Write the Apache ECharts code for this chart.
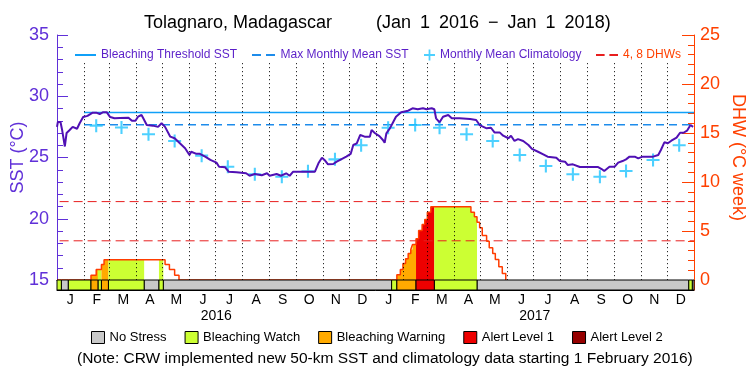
<!DOCTYPE html>
<html><head><meta charset="utf-8">
<script src="https://cdn.jsdelivr.net/npm/echarts@6/dist/echarts.min.js"></script>
<style>html,body{margin:0;padding:0;background:#fff}#c{width:750px;height:375px}</style>
</head><body><div id="c"></div>
<script>
const FONT = 'Liberation Sans';
// ---- data ----
const sstDates = ['2016-01-01','2016-01-02','2016-01-05','2016-01-07','2016-01-10','2016-01-12','2016-01-15','2016-01-19','2016-01-24','2016-01-27','2016-01-31','2016-02-05','2016-02-11','2016-02-15','2016-02-19','2016-02-23','2016-02-27','2016-03-02','2016-03-07','2016-03-13','2016-03-23','2016-03-27','2016-03-31','2016-04-03','2016-04-07','2016-04-09','2016-04-13','2016-04-20','2016-04-26','2016-04-30','2016-05-04','2016-05-10','2016-05-15','2016-05-21','2016-05-27','2016-06-01','2016-06-03','2016-06-09','2016-06-13','2016-06-19','2016-06-25','2016-07-02','2016-07-05','2016-07-12','2016-07-16','2016-07-25','2016-08-05','2016-08-09','2016-08-15','2016-08-23','2016-08-29','2016-09-01','2016-09-09','2016-09-14','2016-09-20','2016-09-24','2016-09-28','2016-10-13','2016-10-23','2016-10-27','2016-10-31','2016-11-03','2016-11-07','2016-11-13','2016-11-17','2016-11-22','2016-11-28','2016-12-03','2016-12-06','2016-12-10','2016-12-14','2016-12-19','2016-12-25','2016-12-27','2016-12-31','2017-01-05','2017-01-09','2017-01-11','2017-01-13','2017-01-17','2017-01-21','2017-01-24','2017-01-30','2017-02-07','2017-02-12','2017-02-14','2017-02-18','2017-02-20','2017-02-24','2017-02-28','2017-03-06','2017-03-09','2017-03-11','2017-03-15','2017-03-19','2017-03-25','2017-03-29','2017-04-07','2017-04-19','2017-04-26','2017-04-30','2017-05-08','2017-05-13','2017-05-17','2017-05-23','2017-05-27','2017-06-02','2017-06-05','2017-06-09','2017-06-13','2017-06-19','2017-06-25','2017-06-29','2017-07-06','2017-07-12','2017-07-17','2017-07-27','2017-07-31','2017-08-06','2017-08-09','2017-08-15','2017-08-23','2017-09-01','2017-09-13','2017-09-17','2017-09-20','2017-09-26','2017-10-02','2017-10-06','2017-10-11','2017-10-15','2017-10-19','2017-10-25','2017-10-29','2017-10-31','2017-11-03','2017-11-15','2017-11-21','2017-11-24','2017-11-28','2017-12-02','2017-12-06','2017-12-12','2017-12-16','2017-12-20','2017-12-24','2017-12-28','2017-12-31'];
const sstValues = [27.5,27.9,27.9,27.2,25.9,27.0,27.2,27.5,27.35,27.8,28.3,28.4,28.66,28.66,28.55,28.7,28.7,28.3,28.2,28.22,28.25,28.0,28.0,28.33,28.47,28.2,27.65,27.6,27.5,27.8,27.5,26.7,26.57,26.16,25.75,25.2,25.47,25.3,25.3,25.07,24.8,24.58,24.25,24.2,23.84,23.79,23.71,23.51,23.65,23.55,23.71,23.51,23.65,23.51,23.71,23.51,23.84,23.84,23.84,24.53,24.98,24.8,24.44,24.47,24.66,24.85,25.07,25.29,26.02,26.16,26.84,26.7,26.7,27.24,26.98,26.75,26.43,26.2,26.98,27.38,27.92,28.33,28.69,28.82,29.02,29.1,28.94,28.82,29.02,28.94,29.02,28.94,28.2,27.87,28.33,28.47,28.2,28.2,28.14,28.06,27.65,27.38,27.43,27.05,27.05,26.78,26.57,26.78,26.35,26.5,26.35,26.02,25.7,25.47,25.26,25.07,24.98,24.71,24.66,24.39,24.44,24.22,24.22,24.22,24.06,23.9,24.25,24.25,24.58,24.71,24.85,25.07,25.07,24.93,24.8,25.07,25.07,25.2,25.61,26.24,26.16,26.37,26.62,27.02,27.02,27.19,27.65,27.5];

const climDates = ['2016-02-15','2016-03-15','2016-04-15','2016-05-15','2016-06-15','2016-07-15','2016-08-15','2016-09-15','2016-10-15','2016-11-15','2016-12-15','2017-01-15','2017-02-15','2017-03-15','2017-04-15','2017-05-15','2017-06-15','2017-07-15','2017-08-15','2017-09-15','2017-10-15','2017-11-15','2017-12-15'];
const climValues = [27.6,27.45,26.9,26.35,25.15,24.25,23.63,23.43,23.87,24.85,26.0,27.43,27.65,27.43,26.9,26.35,25.2,24.3,23.63,23.43,23.9,24.8,26.0];

const lineDates = ['2016-02-01','2018-01-01'];
const thresholdValue = 28.67;
const mmmValue = 27.67;
const dhwRefDates = ['2016-01-04','2018-01-01'];
const dhwRefLevels = [4, 8];

const dhwDates = ['2016-01-01','2016-02-09','2016-02-15','2016-02-21','2016-02-24','2016-05-04','2016-05-09','2016-05-15','2016-05-20','2017-01-25','2017-01-29','2017-02-01','2017-02-04','2017-02-07','2017-02-10','2017-02-12','2017-02-16','2017-02-19','2017-02-23','2017-02-26','2017-03-01','2017-03-05','2017-04-20','2017-04-24','2017-04-27','2017-04-30','2017-05-03','2017-05-08','2017-05-11','2017-05-15','2017-05-18','2017-05-22','2017-05-26','2017-05-30'];
const dhwValues = [0,0.49,1.07,1.58,2.06,1.58,1.07,0.49,0,0.53,1.07,1.68,2.16,2.7,3.11,3.62,4.2,5.05,5.66,6.17,6.92,7.47,6.92,6.45,5.9,5.33,4.54,3.96,3.28,2.7,2.09,1.35,0.66,0];

const stressNames = ['No Stress','Bleaching Watch','Bleaching Warning','Alert Level 1','Alert Level 2'];
const stressColors = ['#c8c8c8','#ccff33','#ffaa00','#ee0000','#960000'];
const stressStarts = ['2016-01-01','2016-01-06','2016-01-14','2016-02-09','2016-02-17','2016-02-21','2016-02-29','2016-04-10','2016-04-27','2016-05-02','2017-01-19','2017-01-25','2017-02-16','2017-03-09','2017-04-27','2017-12-26','2017-12-30'];
const stressLevel = [1,0,1,2,1,2,1,0,1,0,1,2,3,1,0,1,0];
const rangeStart = '2016-01-01', rangeEnd = '2018-01-01';

const monthStarts = ['2016-02-01','2016-03-01','2016-04-01','2016-05-01','2016-06-01','2016-07-01','2016-08-01','2016-09-01','2016-10-01','2016-11-01','2016-12-01','2017-01-01','2017-02-01','2017-03-01','2017-04-01','2017-05-01','2017-06-01','2017-07-01','2017-08-01','2017-09-01','2017-10-01','2017-11-01','2017-12-01'];
const monthLabels = ['J','F','M','A','M','J','J','A','S','O','N','D','J','F','M','A','M','J','J','A','S','O','N','D'];
const yearLabels = ['2016','2017'];

// ---- helpers ----
function T(s){const p=s.split('-');return new Date(+p[0],+p[1]-1,+p[2]).getTime();}
const PURPLE='#6030d8', LEGTXT='#5a1ec8', SSTLINE='#5010b4', ORANGE='#ff4000', DHWRED='#e81e1e';
const xMin=T(rangeStart), xMax=T(rangeEnd);

const segs = stressStarts.map((s,i)=>({start:T(s), end: i<stressStarts.length-1?T(stressStarts[i+1]):xMax, level:stressLevel[i]}));
const dhwT = dhwDates.map(T);
function dhwAt(t){ let v=0; for (let i=0;i<dhwT.length;i++){ if (dhwT[i]<=t) v=dhwValues[i]; else break; } return v; }

const chart = echarts.init(document.getElementById('c'), null, {renderer:'canvas', width:750, height:375});

const stressSeries = stressNames.map((name,lv)=>({
  name, type:'custom', xAxisIndex:1, yAxisIndex:2, z:6,
  itemStyle:{color:stressColors[lv]},
  encode:{x:[0,1]},
  data: segs.filter(s=>s.level===lv).map(s=>[s.start,s.end]),
  renderItem:(params,api)=>{
    const p1=api.coord([api.value(0),1]), p2=api.coord([api.value(1),0]);
    return {type:'rect', shape:{x:p1[0],y:p1[1],width:p2[0]-p1[0],height:p2[1]-p1[1]},
      style:{fill:stressColors[lv], stroke:'#000', lineWidth:1}};
  }
}));

const dashIcon='path://M0,0h9v2h-9zM14,0h9v2h-9z';
const plusIcon='path://M4.2,0h1.6v4.2h4.2v1.6h-4.2v4.2h-1.6v-4.2h-4.2v-1.6h4.2z';
const legText = c => ({color:c,fontSize:12,fontFamily:FONT});

const option = {
  animation:false,
  textStyle:{fontFamily:FONT},
  title:[
    {text:'Tolagnaro, Madagascar', left:139, top:9, textStyle:{fontSize:18,fontWeight:'normal',color:'#000',fontFamily:FONT}},
    {text:'(Jan\u20021\u20022016\u2002\u2212\u2002Jan\u20021\u20022018)', left:371, top:9, textStyle:{fontSize:18,fontWeight:'normal',color:'#000',fontFamily:FONT}},
    {text:'(Note: CRW implemented new 50-km SST and climatology data starting 1 February 2016)', left:72, top:346, textStyle:{fontSize:15.5,fontWeight:'normal',color:'#000',fontFamily:FONT}}
  ],
  legend:[
    {data:['Bleaching Threshold SST'], left:70, top:44, icon:'rect', itemWidth:21, itemHeight:2, selectedMode:false, itemStyle:{borderWidth:0}, textStyle:legText(LEGTXT)},
    {data:['Max Monthly Mean SST'], left:247, top:44, icon:dashIcon, itemWidth:24, itemHeight:2, selectedMode:false, itemStyle:{borderWidth:0}, textStyle:legText(LEGTXT)},
    {data:['Monthly Mean Climatology'], left:419, top:44, icon:plusIcon, itemWidth:11, itemHeight:11, selectedMode:false, itemStyle:{borderWidth:0}, textStyle:legText(LEGTXT)},
    {data:['4, 8 DHWs'], left:591, top:44, icon:dashIcon, itemWidth:22, itemHeight:2, selectedMode:false, itemStyle:{borderWidth:0}, textStyle:legText(ORANGE)},
    {data:stressNames, left:86, top:326, icon:'rect', itemWidth:13, itemHeight:12, itemGap:18, selectedMode:false, itemStyle:{borderColor:'#000',borderWidth:1}, textStyle:{color:'#000',fontSize:13,fontFamily:FONT}}
  ],
  grid:[
    {left:57, right:56, top:35, height:245, outerBoundsMode:'none', containLabel:false},
    {left:57, right:56, top:280, height:10, outerBoundsMode:'none', containLabel:false}
  ],
  xAxis:[
    {type:'time', gridIndex:0, min:xMin, max:xMax, position:'top', axisLine:{show:true,lineStyle:{color:'#000',width:1}}, axisTick:{show:false}, axisLabel:{show:false}, splitLine:{show:false}},
    {type:'time', gridIndex:1, min:xMin, max:xMax, show:false},
    {type:'category', gridIndex:1, data:monthLabels, position:'bottom', axisLine:{show:true,lineStyle:{color:'#000',width:1}}, axisTick:{show:false}, axisLabel:{interval:0,color:'#000',fontSize:14,margin:3}},
    {type:'category', gridIndex:1, data:yearLabels, position:'bottom', offset:16, axisLine:{show:false}, axisTick:{show:false}, axisLabel:{interval:0,color:'#000',fontSize:14,margin:3}}
  ],
  yAxis:[
    {type:'value', gridIndex:0, min:15, max:35, interval:5, position:'left',
     axisLine:{show:true,lineStyle:{color:PURPLE,width:1}}, axisTick:{show:true,inside:true,length:11,lineStyle:{color:PURPLE}},
     minorTick:{show:true,splitNumber:5,length:6,lineStyle:{color:PURPLE}}, splitLine:{show:false},
     axisLabel:{color:PURPLE,fontSize:18,margin:8},
     name:'SST (\u00B0C)', nameLocation:'middle', nameGap:30, nameMoveOverlap:false, nameTextStyle:{color:PURPLE,fontSize:18}},
    {type:'value', gridIndex:0, min:0, max:25, interval:5, position:'right',
     axisLine:{show:true,lineStyle:{color:ORANGE,width:1}}, axisTick:{show:true,inside:true,length:12,lineStyle:{color:ORANGE}},
     minorTick:{show:true,splitNumber:5,length:6,lineStyle:{color:ORANGE}}, splitLine:{show:false},
     axisLabel:{color:ORANGE,fontSize:18,margin:6},
     name:'DHW (\u00B0C week)', nameLocation:'middle', nameRotate:-90, nameGap:35, nameMoveOverlap:false, nameTextStyle:{color:ORANGE,fontSize:18}},
    {type:'value', gridIndex:1, min:0, max:1, position:'left', axisLine:{show:true,lineStyle:{color:PURPLE}}, axisTick:{show:false}, axisLabel:{show:false}, splitLine:{show:false}},
    {type:'value', gridIndex:1, min:0, max:1, position:'right', axisLine:{show:true,lineStyle:{color:ORANGE}}, axisTick:{show:false}, axisLabel:{show:false}, splitLine:{show:false}}
  ],
  series:[
    {name:'DHW fill', type:'custom', xAxisIndex:0, yAxisIndex:1, z:1, encode:{x:[0,1]},
     data: segs.filter(s=>s.level>0).map(s=>[s.start,s.end,s.level]),
     renderItem:(params,api)=>{
       const a=api.value(0), b=api.value(1), lv=api.value(2);
       const pts=[api.coord([a,0])];
       let cur=dhwAt(a); pts.push(api.coord([a,cur]));
       dhwT.forEach((t,i)=>{ if (t>a && t<b){ pts.push(api.coord([t,cur])); cur=dhwValues[i]; pts.push(api.coord([t,cur])); } });
       pts.push(api.coord([b,cur])); pts.push(api.coord([b,0]));
       return {type:'polygon', shape:{points:pts}, style:{fill:stressColors[lv]}};
     }},
    {name:'Month lines', type:'line', xAxisIndex:0, yAxisIndex:0, z:2, data:[], silent:true,
     markLine:{silent:true, symbol:['none','none'], label:{show:false},
       lineStyle:{color:'#000', type:[1,3], width:1},
       data: monthStarts.map(d=>[{coord:[T(d),32.7]},{coord:[T(d),15]}])}},
    ...dhwRefLevels.map(v=>({name:'4, 8 DHWs', type:'line', xAxisIndex:0, yAxisIndex:1, z:3, symbol:'none', color:DHWRED,
      lineStyle:{color:DHWRED, width:1, type:[9,5]},
      data: dhwRefDates.map(d=>[T(d), v])})),
    {name:'DHW', type:'line', xAxisIndex:0, yAxisIndex:1, z:3, step:'end', symbol:'none', color:'#ff3c00',
     lineStyle:{color:'#ff3c00', width:1.5},
     data: dhwDates.map((d,i)=>[T(d), dhwValues[i]])},
    {name:'Bleaching Threshold SST', type:'line', xAxisIndex:0, yAxisIndex:0, z:3, symbol:'none', color:'#10a0f8',
     lineStyle:{color:'#10a0f8', width:1.5},
     data: lineDates.map(d=>[T(d), thresholdValue])},
    {name:'Max Monthly Mean SST', type:'line', xAxisIndex:0, yAxisIndex:0, z:3, symbol:'none', color:'#1e8ceb',
     lineStyle:{color:'#1e8ceb', width:1.5, type:[8,5]},
     data: lineDates.map(d=>[T(d), mmmValue])},
    {name:'Monthly Mean Climatology', type:'scatter', xAxisIndex:0, yAxisIndex:0, z:4, symbol:plusIcon, symbolSize:13, color:'#20c4ff',
     itemStyle:{color:'#20c4ff'},
     data: climDates.map((d,i)=>[T(d), climValues[i]])},
    {name:'SST', type:'line', xAxisIndex:0, yAxisIndex:0, z:5, symbol:'none', color:SSTLINE,
     lineStyle:{color:SSTLINE, width:2},
     data: sstDates.map((d,i)=>[T(d), sstValues[i]])}
  ].concat(stressSeries)
};
chart.setOption(option);
</script>
</body></html>
